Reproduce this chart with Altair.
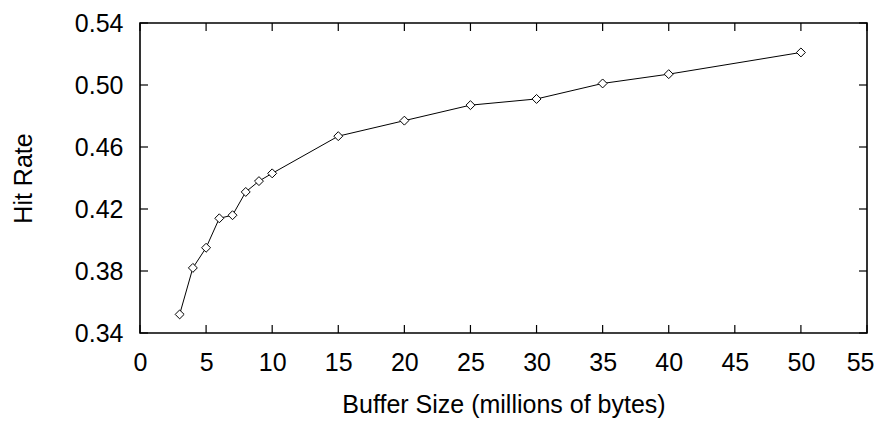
import altair as alt
import pandas as pd

buffer_size = [3, 4, 5, 6, 7, 8, 9, 10, 15, 20, 25, 30, 35, 40, 50]
hit_rate = [0.352, 0.382, 0.395, 0.414, 0.416, 0.431, 0.438, 0.443,
            0.467, 0.477, 0.487, 0.491, 0.501, 0.507, 0.521]
x_ticks = [0, 5, 10, 15, 20, 25, 30, 35, 40, 45, 50, 55]
y_ticks = [0.34, 0.38, 0.42, 0.46, 0.50, 0.54]

df = pd.DataFrame({"x": buffer_size, "y": hit_rate})
xt = pd.DataFrame({"x": x_ticks})
yt = pd.DataFrame({"y": y_ticks})

W, H = 727, 310
FONT = "Liberation Sans"
FS = 25

xscale = alt.Scale(domain=[0, 55], nice=False, zero=False)
yscale = alt.Scale(domain=[0.34, 0.54], nice=False, zero=False)

xaxis = alt.Axis(values=x_ticks, tickSize=0, domain=False, grid=False,
                 labelFlush=True, labelFlushOffset=7, labelPadding=17,
                 title="Buffer Size (millions of bytes)", titlePadding=17)
yaxis = alt.Axis(values=y_ticks, tickSize=0, domain=False, grid=False,
                 labelFlush=False, format=".2f", labelPadding=17,
                 title="Hit Rate", titlePadding=38)

line = alt.Chart(df).mark_line(color="black", strokeWidth=1).encode(
    x=alt.X("x:Q", scale=xscale, axis=xaxis),
    y=alt.Y("y:Q", scale=yscale, axis=yaxis),
)
pts = alt.Chart(df).mark_point(shape="diamond", size=80, filled=True,
                               fill="white", stroke="black",
                               strokeWidth=1, opacity=1).encode(
    x=alt.X("x:Q", scale=xscale),
    y=alt.Y("y:Q", scale=yscale),
)

tb = alt.Chart(xt).mark_rule(color="black", strokeWidth=1.2).encode(
    x=alt.X("x:Q", scale=xscale), y=alt.value(H), y2=alt.value(H - 8))
tt = alt.Chart(xt).mark_rule(color="black", strokeWidth=1.2).encode(
    x=alt.X("x:Q", scale=xscale), y=alt.value(0), y2=alt.value(8))
tl = alt.Chart(yt).mark_rule(color="black", strokeWidth=1.2).encode(
    y=alt.Y("y:Q", scale=yscale), x=alt.value(0), x2=alt.value(8))
tr = alt.Chart(yt).mark_rule(color="black", strokeWidth=1.2).encode(
    y=alt.Y("y:Q", scale=yscale), x=alt.value(W), x2=alt.value(W - 8))

chart = alt.layer(tb, tt, tl, tr, line, pts).properties(
    width=W, height=H,
    autosize=alt.AutoSizeParams(type="none"),
    padding={"left": 132, "top": 15, "right": 9, "bottom": 86},
).configure_view(
    stroke="black", strokeWidth=1.6
).configure_axis(
    labelFont=FONT, titleFont=FONT, labelFontSize=FS, titleFontSize=FS,
    labelColor="black", titleColor="black", titleFontWeight="normal",
)

chart.save("out.html", embed_options={"renderer": "svg", "actions": False})
